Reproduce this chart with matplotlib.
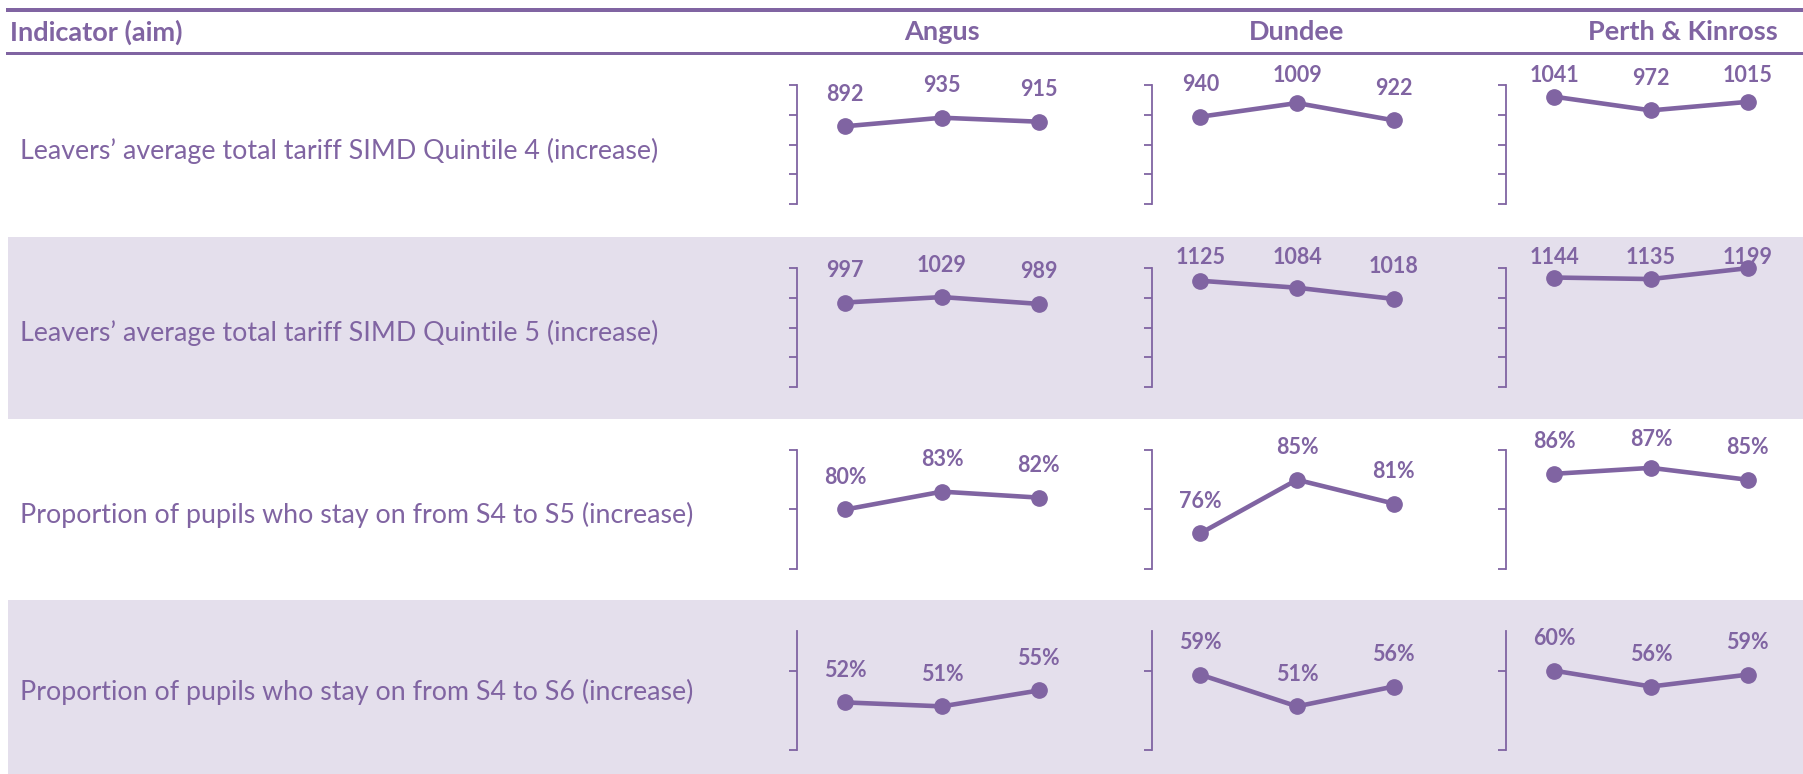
import matplotlib
matplotlib.use("Agg")
import matplotlib.pyplot as plt
from matplotlib.patches import Rectangle
import numpy as np

# data
indicators = [
    "Leavers\u2019 average total tariff SIMD Quintile 4 (increase)",
    "Leavers\u2019 average total tariff SIMD Quintile 5 (increase)",
    "Proportion of pupils who stay on from S4 to S5 (increase)",
    "Proportion of pupils who stay on from S4 to S6 (increase)",
]
councils = ["Angus", "Dundee", "Perth & Kinross"]

# one list per council, three years each
q4_tariff = [[892, 935, 915], [940, 1009, 922], [1041, 972, 1015]]
q5_tariff = [[997, 1029, 989], [1125, 1084, 1018], [1144, 1135, 1199]]
stay_s5 = [[80, 83, 82], [76, 85, 81], [86, 87, 85]]
stay_s6 = [[52, 51, 55], [59, 51, 56], [60, 56, 59]]

rows_data = [q4_tariff, q5_tariff, stay_s5, stay_s6]
is_pct = [False, False, True, True]
y_ranges = [(500, 1100, 150), (500, 1200, 175), (70, 90, 10), (40, 70, 20)]

PURPLE = "#8064A2"
SHADE = "#E4DFEC"
FONT = "Lato"

W, H = 1803, 774
fig = plt.figure(figsize=(W / 100, H / 100), dpi=100)
fig.patch.set_facecolor("white")

# row bands (pixel tops, from the reference)
row_tops = [54, 237, 419, 600]
row_bots = [237, 419, 600, 774]
for i in range(4):
    if i % 2 == 1:
        fig.add_artist(Rectangle((8 / W, 1 - row_bots[i] / H), 1 - 8 / W,
                                 (row_bots[i] - row_tops[i]) / H,
                                 transform=fig.transFigure, color=SHADE, lw=0, zorder=0))

# header rules
for yy in [10, 53.5]:
    fig.add_artist(Rectangle((6 / W, 1 - (yy + 1.5) / H), 1 - 6 / W, 3 / H,
                             transform=fig.transFigure, color=PURPLE, lw=0))

fig.text(10 / W, 1 - 32 / H, "Indicator (aim)", fontsize=19.5, fontweight="bold",
         color=PURPLE, family=FONT, ha="left", va="center")
header_x = [942, 1297, 1683]
for name, hx in zip(councils, header_x):
    fig.text(hx / W, 1 - 32 / H, name, fontsize=19.5, fontweight="bold",
             color=PURPLE, family=FONT, ha="center", va="center")

for i, label in enumerate(indicators):
    cy = (row_tops[i] + row_bots[i]) / 2 + 5
    fig.text(20 / W, 1 - cy / H, label, fontsize=19.3, color=PURPLE,
             family=FONT, ha="left", va="center")

# small line charts
ax_left = [797, 1152, 1506]
ax_w = 290
ax_h = 119
xs = np.array([0.5, 1.5, 2.5])

fig.canvas.draw()
for r in range(4):
    lo, hi, step = y_ranges[r]
    top = row_tops[r] + 31
    for c in range(3):
        ax = fig.add_axes([ax_left[c] / W, 1 - (top + ax_h) / H, ax_w / W, ax_h / H])
        ax.patch.set_alpha(0)
        vals = rows_data[r][c]
        ax.plot(xs, vals, color=PURPLE, lw=3.3, marker="o", markersize=11,
                solid_capstyle="round", clip_on=False)
        ax.set_xlim(0, 3)
        ax.set_ylim(lo, hi)
        ax.set_yticks(np.arange(lo, hi + 0.01, step))
        ax.set_xticks([])
        ax.tick_params(axis="y", direction="out", length=6, width=1.3,
                       color=PURPLE, labelleft=False)
        for s in ["top", "right", "bottom"]:
            ax.spines[s].set_visible(False)
        ax.spines["left"].set_color(PURPLE)
        ax.spines["left"].set_linewidth(1.3)

        # data labels above points, kept inside the row
        for x, v in zip(xs, vals):
            px, py = ax.transData.transform((x, v))
            ty = min(py + 32, H - (row_tops[r] + 21))
            txt = f"{v}%" if is_pct[r] else f"{v}"
            fig.text(px / W, ty / H, txt, fontsize=15.5, fontweight="bold",
                     color=PURPLE, family=FONT, ha="center", va="center")

fig.savefig("out.png", dpi=100)
